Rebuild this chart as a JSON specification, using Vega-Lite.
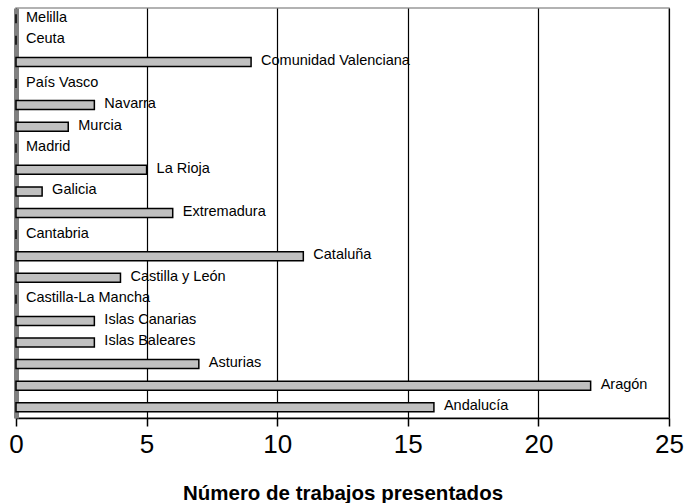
{
  "$schema": "https://vega.github.io/schema/vega-lite/v6.json",
  "width": 653,
  "height": 410,
  "autosize": "none",
  "padding": {"left": 16, "top": 8, "right": 15, "bottom": 85},
  "background": "white",
  "config": {
    "font": "Liberation Sans",
    "view": {"stroke": "#999999", "strokeWidth": 1.5}
  },
  "data": {
    "values": [
      {"region": "Melilla", "trabajos": 0},
      {"region": "Ceuta", "trabajos": 0},
      {"region": "Comunidad Valenciana", "trabajos": 9},
      {"region": "País Vasco", "trabajos": 0},
      {"region": "Navarra", "trabajos": 3},
      {"region": "Murcia", "trabajos": 2},
      {"region": "Madrid", "trabajos": 0},
      {"region": "La Rioja", "trabajos": 5},
      {"region": "Galicia", "trabajos": 1},
      {"region": "Extremadura", "trabajos": 6},
      {"region": "Cantabria", "trabajos": 0},
      {"region": "Cataluña", "trabajos": 11},
      {"region": "Castilla y León", "trabajos": 4},
      {"region": "Castilla-La Mancha", "trabajos": 0},
      {"region": "Islas Canarias", "trabajos": 3},
      {"region": "Islas Baleares", "trabajos": 3},
      {"region": "Asturias", "trabajos": 7},
      {"region": "Aragón", "trabajos": 22},
      {"region": "Andalucía", "trabajos": 16}
    ]
  },
  "encoding": {
    "y": {
      "field": "region",
      "type": "nominal",
      "sort": null,
      "scale": {"paddingInner": 0, "paddingOuter": 0},
      "axis": {"title": null, "labels": false, "ticks": false, "grid": false, "domainColor": "#808080", "domainWidth": 5}
    },
    "x": {
      "field": "trabajos",
      "type": "quantitative",
      "scale": {"domain": [0, 25], "nice": false},
      "axis": {
        "title": "Número de trabajos presentados",
        "titleFontSize": 20.5,
        "titleFontWeight": "bold",
        "titleColor": "black",
        "titlePadding": 26,
        "values": [0, 5, 10, 15, 20, 25],
        "labelFlush": false,
        "labelFontSize": 26,
        "labelColor": "black",
        "labelPadding": 5,
        "tickSize": 8,
        "tickColor": "black",
        "tickWidth": 1.5,
        "domainColor": "black",
        "domainWidth": 1.5,
        "grid": true,
        "gridColor": "black",
        "gridWidth": 1.2,
        "gridOpacity": 1
      }
    }
  },
  "layer": [
    {
      "mark": {"type": "bar", "height": 9, "fill": "#c0c0c0", "stroke": "black", "strokeWidth": 1.5}
    },
    {
      "mark": {"type": "text", "align": "left", "baseline": "middle", "dx": 10, "dy": -1, "fontSize": 14.5, "color": "black"},
      "encoding": {"text": {"field": "region"}}
    }
  ]
}
